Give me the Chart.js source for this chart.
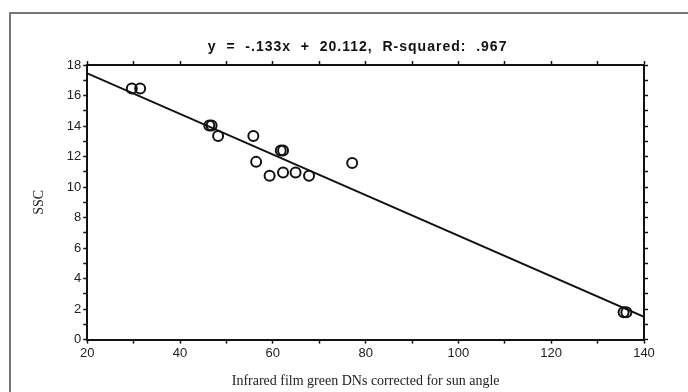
<!DOCTYPE html>
<html>
<head>
<meta charset="utf-8">
<script src="https://cdn.jsdelivr.net/npm/chart.js@4"></script>
<style>
  html, body { margin: 0; padding: 0; background: #fff; }
  #wrap { width: 688px; height: 392px; }
</style>
</head>
<body>
<div id="wrap"><canvas id="ssc" width="688" height="392"></canvas></div>
<script>
// green DNs (sun angle corrected) vs SSC
var dnValues = [29.6, 31.4, 46.3, 46.8, 48.2, 55.8, 56.4, 59.3, 61.7, 62.2, 62.2, 64.9, 67.8, 77.1, 135.6, 136.2];
var sscValues = [16.46, 16.46, 14.04, 14.04, 13.34, 13.34, 11.65, 10.74, 12.39, 12.39, 10.96, 10.96, 10.74, 11.58, 1.8, 1.8];

// fit given in the title
var slope = -0.133;
var intercept = 20.112;
var rSquared = '.967';
var headline = 'y  =  -.133x  +  20.112,  R-squared:  ' + rSquared;

var xRange = [20, 140];
var yRange = [0, 18];

var points = dnValues.map(function (v, i) { return { x: v, y: sscValues[i] }; });
var fitLine = xRange.map(function (v) { return { x: v, y: slope * v + intercept }; });

var black = '#111';
var tickFont = { family: 'Liberation Sans', size: 13 };

function axis(pos, range, step, labelEvery, showLabels) {
  return {
    type: 'linear',
    position: pos,
    min: range[0],
    max: range[1],
    border: { color: black, width: 2 },
    grid: { drawOnChartArea: false, drawTicks: true, tickLength: 4, color: black, tickWidth: 1.5 },
    ticks: {
      display: showLabels,
      stepSize: step,
      autoSkip: false,
      maxRotation: 0,
      padding: 2,
      color: '#222',
      font: tickFont,
      callback: function (v) { return v % labelEvery === 0 ? v : ''; }
    }
  };
}

// grey page frame + the equation line above the plot
var frame = {
  id: 'frame',
  beforeDraw: function (chart) {
    var c = chart.ctx;
    c.save();
    c.fillStyle = '#fff';
    c.fillRect(0, 0, chart.width, chart.height);
    c.strokeStyle = '#777';
    c.lineWidth = 2;
    c.strokeRect(10, 13, 700, 400);
    c.restore();
  },
  afterDraw: function (chart) {
    var c = chart.ctx, a = chart.chartArea;
    c.save();
    c.font = 'bold 14px "Liberation Sans"';
    c.letterSpacing = '1px';
    c.fillStyle = '#111';
    c.textAlign = 'center';
    c.textBaseline = 'middle';
    c.fillText(headline, (a.left + a.right) / 2 - 8, a.top - 18);
    c.restore();
  }
};

var xAxis = axis('bottom', xRange, 10, 20, true);
xAxis.title = { display: true, text: 'Infrared film green DNs corrected for sun angle', color: '#222',
  font: { family: 'Liberation Serif', size: 14 }, padding: { top: 10, bottom: 0 } };
var yAxis = axis('left', yRange, 1, 2, true);
yAxis.title = { display: true, text: 'SSC', color: '#222',
  font: { family: 'Liberation Serif', size: 14 }, padding: { top: 0, bottom: 17 } };

new Chart(document.getElementById('ssc'), {
  type: 'scatter',
  data: {
    datasets: [
      {
        data: points,
        pointStyle: 'circle',
        pointRadius: 5,
        borderWidth: 2,
        borderColor: black,
        backgroundColor: 'rgba(0,0,0,0)',
        showLine: false
      },
      {
        type: 'line',
        data: fitLine,
        borderColor: black,
        borderWidth: 2,
        pointRadius: 0,
        fill: false
      }
    ]
  },
  options: {
    responsive: false,
    animation: false,
    layout: { padding: { top: 61, right: 40, bottom: 2, left: 31 } },
    plugins: {
      legend: { display: false },
      tooltip: { enabled: false },
      title: { display: false }
    },
    scales: {
      x: xAxis,
      y: yAxis,
      x2: axis('top', xRange, 10, 20, false),
      y2: axis('right', yRange, 1, 2, false)
    }
  },
  plugins: [frame]
});
</script>
</body>
</html>
